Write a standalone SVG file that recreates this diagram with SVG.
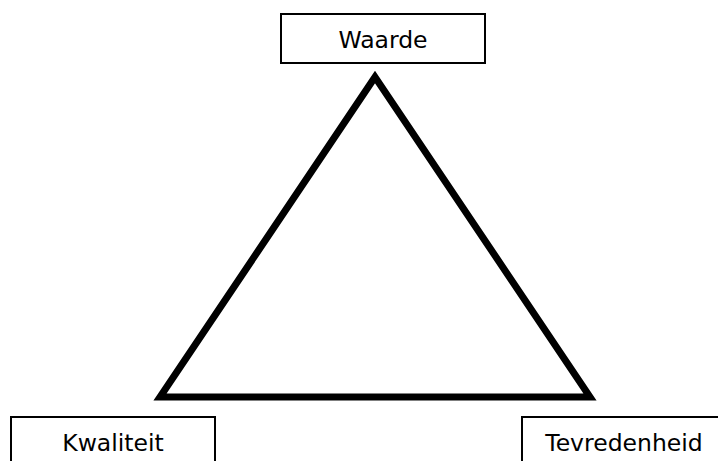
<svg xmlns="http://www.w3.org/2000/svg" width="718" height="461" viewBox="0 0 718 461">
  <style>
    .box { fill: #ffffff; stroke: #000000; stroke-width: 2; }
    .label { font-family: "DejaVu Sans", Verdana, sans-serif; font-size: 23.5px; fill: #000000; text-anchor: middle; }
    .tri { fill: none; stroke: #000000; stroke-width: 7; stroke-linejoin: miter; stroke-miterlimit: 10; }
  </style>
  <rect width="718" height="461" fill="#ffffff"/>
  <g id="connectors">
    <polygon class="tri" points="375,77 160,397 590,397"/>
  </g>
  <g id="waarde">
    <rect class="box" x="281" y="14" width="204" height="49"/>
    <text class="label" x="383" y="48">Waarde</text>
  </g>
  <g id="kwaliteit">
    <rect class="box" x="11" y="417" width="204" height="60"/>
    <text class="label" x="113" y="451">Kwaliteit</text>
  </g>
  <g id="tevredenheid">
    <rect class="box" x="522" y="417" width="204" height="60"/>
    <text class="label" x="624" y="451">Tevredenheid</text>
  </g>
</svg>
